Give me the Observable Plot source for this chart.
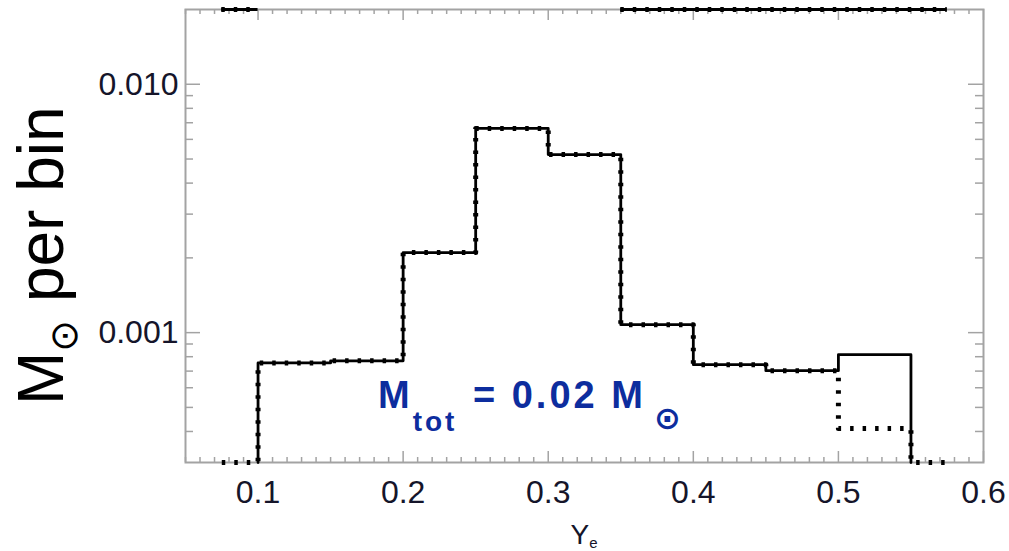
<!DOCTYPE html>
<html>
<head>
<meta charset="utf-8">
<script src="https://cdn.jsdelivr.net/npm/d3@7"></script>
<script src="https://cdn.jsdelivr.net/npm/@observablehq/plot@0.6"></script>
<style>
  html, body { margin: 0; padding: 0; background: #fff; }
  #chart { width: 1009px; height: 551px; }
</style>
</head>
<body>
<div id="chart"></div>
<script>
// Ye histogram bins (bin edges) and ejected mass per bin
const binEdges = [0.1, 0.15, 0.2, 0.25, 0.3, 0.35, 0.4, 0.45, 0.5, 0.55];
const massTotal = [7.55e-4, 7.7e-4, 2.1e-3, 6.64e-3, 5.21e-3, 1.077e-3, 7.43e-4, 7.03e-4, 8.15e-4];

// second (dotted) histogram spans one extra bin on each side; zero bins sit on the floor
const binEdgesDotted = [0.075, 0.1, 0.15, 0.2, 0.25, 0.3, 0.35, 0.4, 0.45, 0.5, 0.55, 0.575];
const massDotted = [0, 7.55e-4, 7.7e-4, 2.1e-3, 6.64e-3, 5.21e-3, 1.077e-3, 7.43e-4, 7.03e-4, 4.11e-4, 0];

// bins whose values lie above the plotted range (drawn pinned to the top edge)
const offscaleLo = [0.075, 0.35];
const offscaleHi = [0.1, 0.575];

// axis ticks and labels
const xTickValues = [0.1, 0.2, 0.3, 0.4, 0.5, 0.6];
const xTickLabels = ["0.1", "0.2", "0.3", "0.4", "0.5", "0.6"];
const yTickValues = [0.001, 0.01];
const yTickLabels = ["0.001", "0.010"];
const yMinorTicks = [4e-4, 5e-4, 6e-4, 7e-4, 8e-4, 9e-4, 2e-3, 3e-3, 4e-3, 5e-3, 6e-3, 7e-3, 8e-3, 9e-3];

const xDomain = [0.05, 0.6];
const yDomain = [3e-4, 0.02];

const W = 1009, H = 551;
const mt = 9, mb = 89, ml = 185, mr = 26;
const innerH = H - mt - mb, innerW = W - ml - mr;
const floor = yDomain[0];

// step outline of a histogram, closed down to the floor at both ends
function outline(edges, values) {
  const pts = [{x: edges[0], y: floor}];
  values.forEach((v, i) => {
    const y = Math.max(v, floor);
    pts.push({x: edges[i], y}, {x: edges[i + 1], y});
  });
  pts.push({x: edges[edges.length - 1], y: floor});
  return pts;
}

const solidPath = outline(binEdges, massTotal);
const dottedPath = outline(binEdgesDotted, massDotted);
const offscale = offscaleLo.map((lo, i) => ({lo, hi: offscaleHi[i]}));

const xMinor = d3.range(5, 61).map(k => k / 100).filter(v => !xTickValues.some(t => Math.abs(t - v) < 1e-9));

const gray = "#a3a3a3";
const labelColor = "#15152a";
const dots = {stroke: "#000", strokeWidth: 5, strokeDasharray: "3.5,9", strokeLinecap: "butt"};

const plot = Plot.plot({
  width: W, height: H,
  marginTop: mt, marginBottom: mb, marginLeft: ml, marginRight: mr,
  x: {domain: xDomain},
  y: {type: "log", domain: yDomain},
  style: {fontFamily: "'Liberation Sans', Arial, sans-serif", background: "#fff", overflow: "visible"},
  marks: [
    Plot.frame({stroke: gray, strokeWidth: 2}),
    // inward tick marks on all four sides
    Plot.ruleX(xMinor, {stroke: gray, strokeWidth: 1.5, insetTop: innerH - 5}),
    Plot.ruleX(xMinor, {stroke: gray, strokeWidth: 1.5, insetBottom: innerH - 5}),
    Plot.ruleX(xTickValues, {stroke: gray, strokeWidth: 1.5, insetTop: innerH - 11}),
    Plot.ruleX(xTickValues, {stroke: gray, strokeWidth: 1.5, insetBottom: innerH - 11}),
    Plot.ruleY(yMinorTicks, {stroke: gray, strokeWidth: 1.5, insetRight: innerW - 8}),
    Plot.ruleY(yMinorTicks, {stroke: gray, strokeWidth: 1.5, insetLeft: innerW - 8}),
    Plot.ruleY(yTickValues, {stroke: gray, strokeWidth: 1.5, insetRight: innerW - 15}),
    Plot.ruleY(yTickValues, {stroke: gray, strokeWidth: 1.5, insetLeft: innerW - 15}),
    Plot.axisX(xTickValues, {
      tickSize: 0, tickPadding: 18, fontSize: 32, fill: labelColor,
      tickFormat: d => xTickLabels[xTickValues.indexOf(d)], label: null
    }),
    Plot.axisY(yTickValues, {
      tickSize: 0, tickPadding: 7, fontSize: 32, fill: labelColor,
      tickFormat: d => yTickLabels[yTickValues.indexOf(d)], label: null
    }),
    // histograms
    Plot.line(solidPath, {x: "x", y: "y", stroke: "#000", strokeWidth: 2.8}),
    Plot.line(dottedPath, {x: "x", y: "y", ...dots}),
    // off-scale bins along the top edge
    Plot.ruleY(offscale, {y: () => yDomain[1], x1: "lo", x2: "hi", stroke: "#000", strokeWidth: 3}),
    Plot.ruleY(offscale, {y: () => yDomain[1], x1: "lo", x2: "hi", ...dots})
  ]
});

document.getElementById("chart").appendChild(plot);

const svg = d3.select(plot);
const xs = plot.scale("x"), ys = plot.scale("y");

// y-axis title: M⊙ per bin
const yTitle = svg.append("text")
  .attr("transform", `translate(63, ${ys.apply(yDomain[0]) - 57}) rotate(-90)`)
  .attr("text-anchor", "start")
  .attr("font-family", "'Liberation Sans', Arial, sans-serif")
  .attr("font-size", 64).attr("fill", "#000");
yTitle.append("tspan").text("M");
yTitle.append("tspan").attr("font-family", "'DejaVu Sans', sans-serif").attr("font-size", 38).attr("dy", 14).text("⊙");
yTitle.append("tspan").attr("dy", -14).text(" per bin");

// x-axis title: Y_e
const xTitle = svg.append("text")
  .attr("x", (xs.apply(xDomain[0]) + xs.apply(xDomain[1])) / 2)
  .attr("y", 544)
  .attr("text-anchor", "middle")
  .attr("font-family", "'Liberation Sans', Arial, sans-serif")
  .attr("font-size", 28).attr("fill", labelColor);
xTitle.append("tspan").text("Y");
xTitle.append("tspan").attr("font-size", 15).attr("dy", 4).text("e");

// total mass annotation
const note = svg.append("text")
  .attr("x", xs.apply(0.183))
  .attr("y", ys.apply(4.95e-4))
  .attr("text-anchor", "start")
  .attr("letter-spacing", 3)
  .attr("font-family", "'Liberation Sans', Arial, sans-serif")
  .attr("font-weight", "bold").attr("font-size", 38).attr("fill", "#0d2d9e");
note.append("tspan").text("M");
note.append("tspan").attr("font-size", 28).attr("letter-spacing", 3).attr("dy", 23).text("tot");
note.append("tspan").attr("dy", -23).attr("dx", 2).text(" = 0.02 M");
note.append("tspan").attr("font-family", "'DejaVu Sans', sans-serif").attr("font-size", 32)
  .attr("dx", 8).attr("dy", 21).text("⊙");
</script>
</body>
</html>
